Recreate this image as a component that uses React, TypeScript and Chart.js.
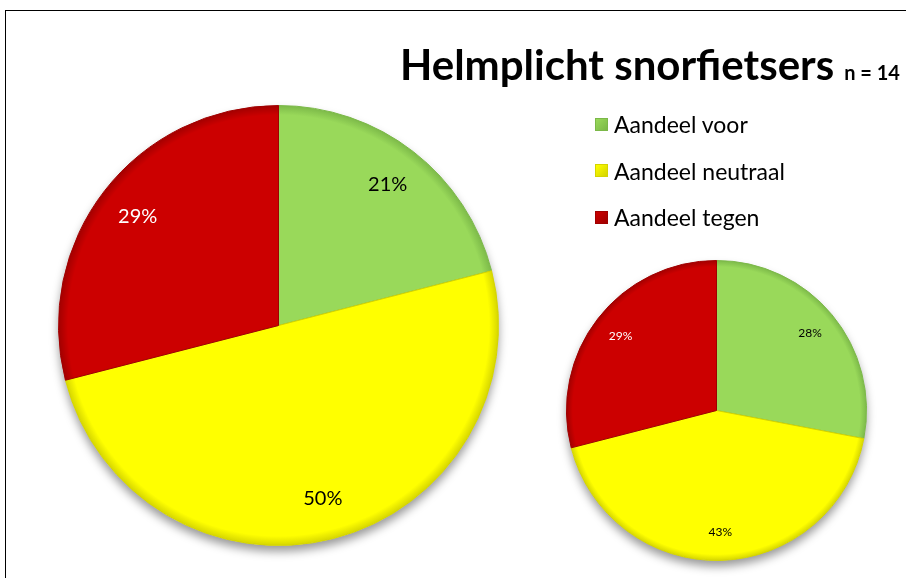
import React, { useEffect, useRef } from "react";
import { Chart, registerables } from "chart.js";

Chart.register(...registerables);

const categories = ["Aandeel voor", "Aandeel neutraal", "Aandeel tegen"];
const bigValues = [21, 50, 29];
const smallValues = [28, 43, 29];
const sliceColors = ["#99D95A", "#FFFF00", "#CC0000"];
const edgeColors = ["#7BB848", "#D4D400", "#A00000"];
const labelColors = ["#000000", "#000000", "#FFFFFF"];
const titleText = "Helmplicht snorfietsers";
const subtitleText = "n = 14";

const FONT = "Lato, 'Open Sans', sans-serif";

function makeGradient(ctx: any, i: number) {
  const chart = ctx.chart;
  const area = chart.chartArea;
  if (!area) return sliceColors[i];
  const cx = (area.left + area.right) / 2;
  const cy = (area.top + area.bottom) / 2;
  const r = Math.min(area.right - area.left, area.bottom - area.top) / 2;
  const g = chart.ctx.createRadialGradient(cx, cy, 0, cx, cy, r);
  g.addColorStop(0, sliceColors[i]);
  g.addColorStop(0.955, sliceColors[i]);
  g.addColorStop(1, edgeColors[i]);
  return g;
}

const shadowPlugin = {
  id: "pieShadow",
  beforeDatasetsDraw(chart: any) {
    const meta = chart.getDatasetMeta(0);
    const arc = meta.data[0];
    if (!arc) return;
    const c = chart.ctx;
    c.save();
    c.shadowColor = "rgba(0,0,0,0.4)";
    c.shadowBlur = 10;
    c.shadowOffsetY = 6;
    c.fillStyle = "#ffffff";
    c.beginPath();
    c.arc(arc.x, arc.y, arc.outerRadius, 0, Math.PI * 2);
    c.fill();
    c.restore();
  },
};

function labelPlugin(fontSize: number) {
  return {
    id: "pctLabels",
    afterDatasetsDraw(chart: any) {
      const meta = chart.getDatasetMeta(0);
      const data = chart.data.datasets[0].data as number[];
      const c = chart.ctx;
      c.save();
      c.font = `${fontSize}px ${FONT}`;
      c.textAlign = "center";
      c.textBaseline = "middle";
      meta.data.forEach((arc: any, i: number) => {
        const mid = (arc.startAngle + arc.endAngle) / 2;
        const d = arc.outerRadius * 0.81;
        const x = arc.x + Math.cos(mid) * d;
        const y = arc.y + Math.sin(mid) * d;
        c.fillStyle = labelColors[i];
        c.fillText(`${data[i]}%`, x, y);
      });
      c.restore();
    },
  };
}

function PieCanvas(props: { values: number[]; fontSize: number; style: React.CSSProperties; pad: number }) {
  const ref = useRef<HTMLCanvasElement | null>(null);
  useEffect(() => {
    if (!ref.current) return;
    const chart = new Chart(ref.current, {
      type: "pie",
      data: {
        labels: categories,
        datasets: [
          {
            data: props.values,
            backgroundColor: (ctx: any) => makeGradient(ctx, ctx.dataIndex),
            borderColor: edgeColors,
            borderWidth: 1,
            hoverOffset: 0,
            offset: 0,
          },
        ],
      },
      options: {
        animation: false,
        responsive: false,
        maintainAspectRatio: false,
        layout: { padding: props.pad },
        plugins: {
          legend: { display: false },
          tooltip: { enabled: false },
          title: { display: false },
        },
        events: [],
      },
      plugins: [shadowPlugin, labelPlugin(props.fontSize)],
    });
    return () => chart.destroy();
  }, []);
  return <canvas ref={ref} width={props.style.width as number} height={props.style.height as number} style={props.style} />;
}

export default function App() {
  const pad = 20;
  const bigR = 220;
  const bigSize = 2 * bigR + 1 + 2 * pad;
  const smallR = 150;
  const smallSize = 2 * smallR + 1 + 2 * pad;
  return (
    <div
      style={{
        position: "fixed",
        left: 0,
        top: 0,
        width: 906,
        height: 578,
        overflow: "hidden",
        background: "#ffffff",
      }}
    >
      <div
        style={{
          position: "absolute",
          left: 5,
          top: 10,
          width: 1200,
          height: 1000,
          border: "1px solid #000",
          boxSizing: "border-box",
        }}
      />
      <PieCanvas
        values={bigValues}
        fontSize={20}
        pad={pad}
        style={{ position: "absolute", left: 278 - bigSize / 2, top: 325 - bigSize / 2, width: bigSize, height: bigSize }}
      />
      <PieCanvas
        values={smallValues}
        fontSize={12}
        pad={pad}
        style={{ position: "absolute", left: 716 - smallSize / 2, top: 410 - smallSize / 2, width: smallSize, height: smallSize }}
      />
      <div
        style={{
          position: "absolute",
          left: 400,
          top: 39,
          whiteSpace: "nowrap",
          fontFamily: FONT,
          fontWeight: 700,
          color: "#000",
        }}
      >
        <span style={{ fontSize: 42 }}>{titleText}</span>
        <span style={{ fontSize: 20, marginLeft: 10 }}>{subtitleText}</span>
      </div>
      <div style={{ position: "absolute", left: 595, top: 101, fontFamily: FONT, fontSize: 23, color: "#000" }}>
        {categories.map((c, i) => (
          <div key={c} style={{ display: "flex", alignItems: "center", height: 46.5 }}>
            <span
              style={{
                display: "inline-block",
                width: 13,
                height: 13,
                marginRight: 6,
                background: `linear-gradient(135deg, ${sliceColors[i]}, ${edgeColors[i]})`,
                border: `1px solid ${edgeColors[i]}`,
                boxSizing: "border-box",
              }}
            />
            <span>{c}</span>
          </div>
        ))}
      </div>
    </div>
  );
}
